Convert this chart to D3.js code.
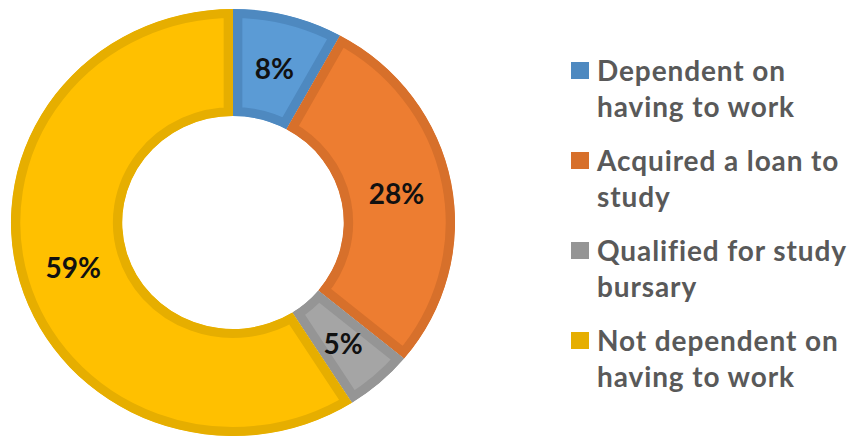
<!DOCTYPE html>
<html>
<head>
<meta charset="utf-8">
<script src="https://cdn.jsdelivr.net/npm/d3@7/dist/d3.min.js"></script>
<style>
  html, body { margin: 0; padding: 0; background: #fff; }
  svg { display: block; }
</style>
</head>
<body>
<svg id="chart" width="850" height="439"></svg>
<script>
// Sources of study funding (share of respondents, %)
const categories = [
  "Dependent on having to work",
  "Acquired a loan to study",
  "Qualified for study bursary",
  "Not dependent on having to work"
];
const values = [8, 28, 5, 59];
const valueLabels = ["8%", "28%", "5%", "59%"];
const legendLines = [
  ["Dependent on", "having to work"],
  ["Acquired a loan to", "study"],
  ["Qualified for study", "bursary"],
  ["Not dependent on", "having to work"]
];
const fillColors = ["#5B9BD5", "#ED7D31", "#A5A5A5", "#FFC000"];
const borderColors = ["#4E89C0", "#D7702B", "#959595", "#E6AE00"];

const svg = d3.select("#chart");
const W = 850, H = 439;
svg.append("rect").attr("width", W).attr("height", H).attr("fill", "#fff");

// Ring geometry
const cx = 233, cy = 222.5, sx = 1.04;
const rOuter = 213.5, rInner = 106.5, border = 9;

const pie = d3.pie().sort(null).value(d => d);
const arcs = pie(values);
const arc = d3.arc().innerRadius(rInner).outerRadius(rOuter);
const labelArc = d3.arc().innerRadius((rInner + rOuter) / 2).outerRadius((rInner + rOuter) / 2);

const defs = svg.append("defs");
const ring = svg.append("g").attr("transform", `translate(${cx},${cy}) scale(${sx},1)`);

arcs.forEach((a, i) => {
  defs.append("clipPath").attr("id", "slice-clip-" + i)
    .append("path").attr("d", arc(a));
  // slice fill with an inner border of its own darker tone
  ring.append("path")
    .attr("d", arc(a))
    .attr("fill", fillColors[i])
    .attr("stroke", borderColors[i])
    .attr("stroke-width", border * 2)
    .attr("stroke-linejoin", "miter")
    .attr("clip-path", `url(#slice-clip-${i})`);
});

// Value labels at each slice's centroid
arcs.forEach((a, i) => {
  const [lx, ly] = labelArc.centroid(a);
  svg.append("text")
    .attr("x", cx + lx * sx)
    .attr("y", cy + ly)
    .attr("text-anchor", "middle")
    .attr("dominant-baseline", "central")
    .attr("font-family", "Lato, 'Open Sans', sans-serif")
    .attr("font-weight", "bold")
    .attr("font-size", 28)
    .attr("fill", "#111")
    .text(valueLabels[i]);
});

// Legend
const legend = svg.append("g").attr("transform", "translate(571,62)");
const rowStep = 90, lineStep = 36;
categories.forEach((c, i) => {
  const row = legend.append("g").attr("transform", `translate(0,${i * rowStep})`);
  row.append("rect")
    .attr("x", 0).attr("y", 0).attr("width", 18).attr("height", 17)
    .attr("fill", borderColors[i]);
  const t = row.append("text")
    .attr("font-family", "Lato, 'Open Sans', sans-serif")
    .attr("font-weight", "bold")
    .attr("font-size", 28)
    .attr("letter-spacing", 0.9)
    .attr("fill", "#595959");
  legendLines[i].forEach((ln, j) => {
    t.append("tspan").attr("x", 26).attr("y", 19 + j * lineStep).text(ln);
  });
});
</script>
</body>
</html>
